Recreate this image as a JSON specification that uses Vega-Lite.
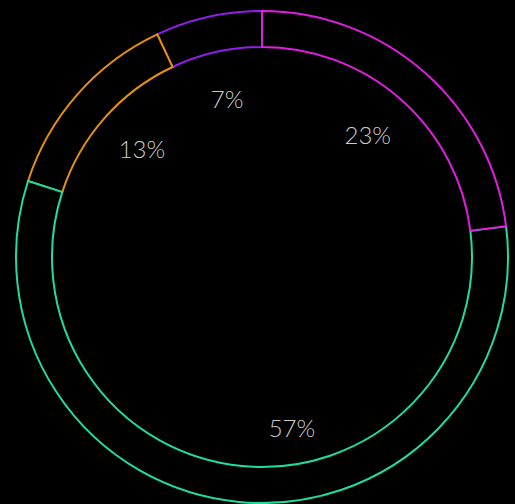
{
  "$schema": "https://vega.github.io/schema/vega-lite/v6.json",
  "autosize": {"type": "fit", "contains": "padding"},
  "width": 515,
  "height": 504,
  "padding": {"left": 9, "top": 10, "right": 0, "bottom": 0},
  "background": "#000000",
  "config": {"view": {"stroke": null}},
  "data": {
    "values": [
      {"segment": "D", "value": 7, "label": "7%", "rank": 4},
      {"segment": "C", "value": 13, "label": "13%", "rank": 3},
      {"segment": "B", "value": 57, "label": "57%", "rank": 2},
      {"segment": "A", "value": 23, "label": "23%", "rank": 1}
    ]
  },
  "encoding": {
    "theta": {"field": "value", "type": "quantitative", "stack": true},
    "order": {"field": "rank", "type": "quantitative"}
  },
  "layer": [
    {
      "mark": {"type": "arc", "radius": 246, "innerRadius": 210, "fill": "#000000", "strokeWidth": 2},
      "encoding": {
        "stroke": {
          "field": "segment",
          "type": "nominal",
          "scale": {"domain": ["A", "B", "C", "D"], "range": ["#e01ee0", "#1fdca2", "#e8900c", "#8f1fe6"]},
          "legend": null
        }
      }
    },
    {
      "mark": {"type": "text", "radius": 160, "font": "Lato", "fontWeight": 300, "fontSize": 24, "fill": "#cccccc", "align": "center", "baseline": "middle"},
      "encoding": {
        "text": {"field": "label", "type": "nominal"},
        "opacity": {"condition": {"test": "datum.label === '57%'", "value": 0}, "value": 1}
      }
    },
    {
      "mark": {"type": "text", "radius": 160, "dx": 45, "dy": 14, "font": "Lato", "fontWeight": 300, "fontSize": 24, "fill": "#cccccc", "align": "center", "baseline": "middle"},
      "encoding": {
        "text": {"field": "label", "type": "nominal"},
        "opacity": {"condition": {"test": "datum.label === '57%'", "value": 1}, "value": 0}
      }
    }
  ]
}
